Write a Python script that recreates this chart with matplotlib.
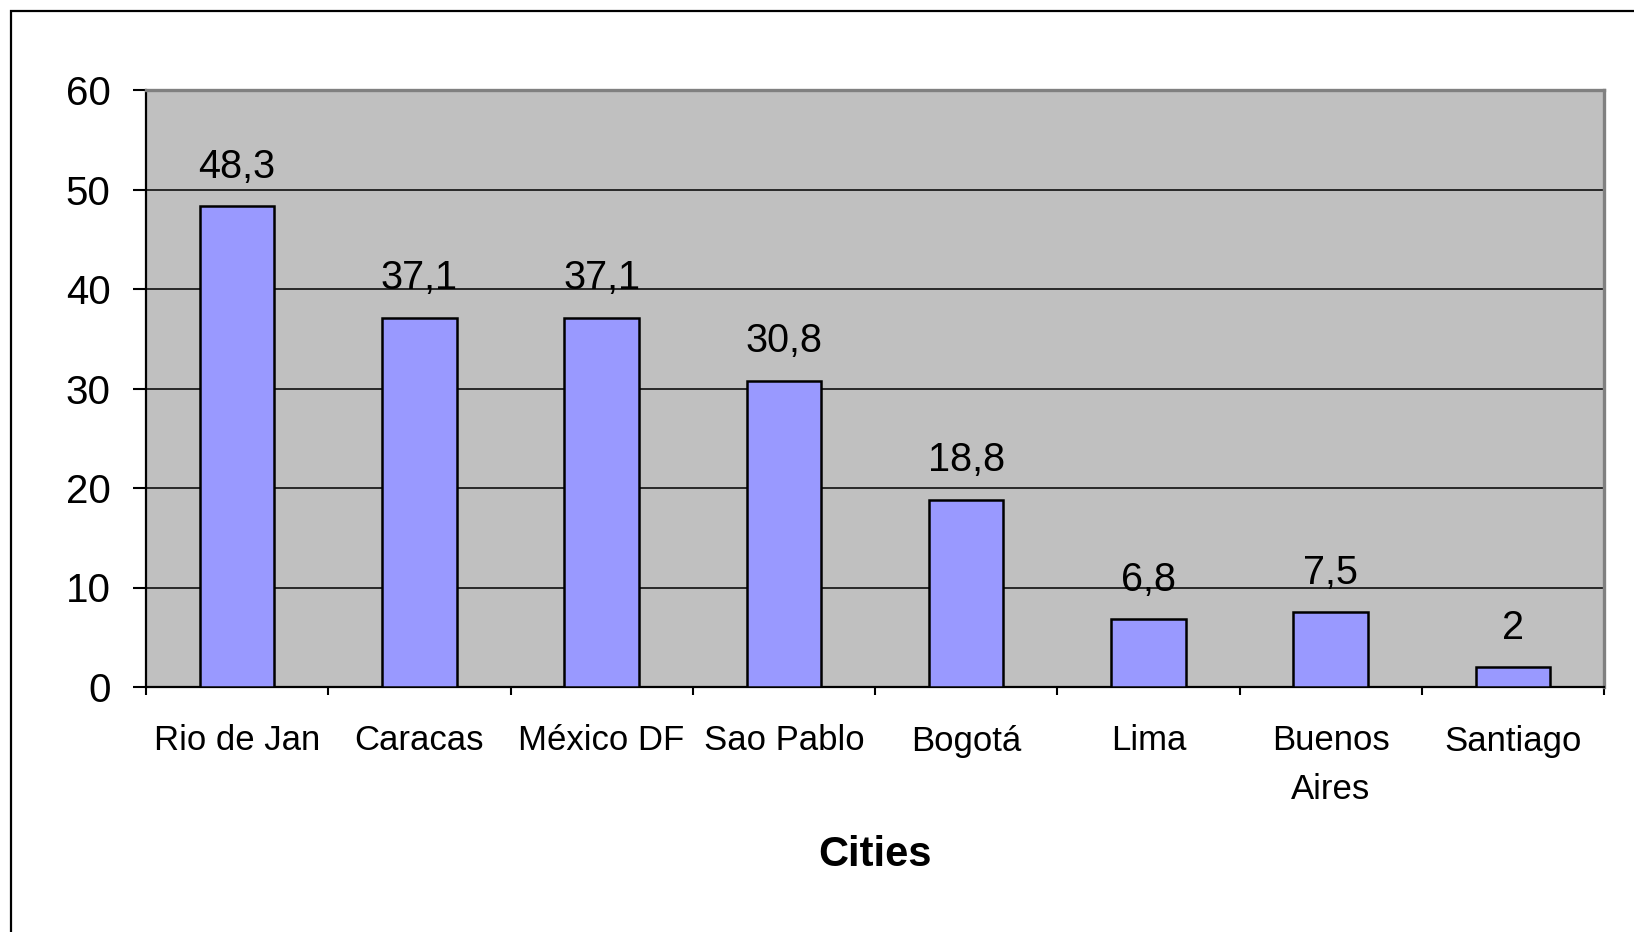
import numpy as np
import matplotlib
matplotlib.use('Agg')
import matplotlib.pyplot as plt
from matplotlib.patches import Rectangle

plt.rcParams['font.family'] = ['Liberation Sans', 'DejaVu Sans']

cities = ['Rio de Jan', 'Caracas', 'México DF', 'Sao Pablo', 'Bogotá', 'Lima', 'Buenos\nAires', 'Santiago']
values = [48.3, 37.1, 37.1, 30.8, 18.8, 6.8, 7.5, 2]
value_labels = ['48,3', '37,1', '37,1', '30,8', '18,8', '6,8', '7,5', '2']
y_ticks = [0, 10, 20, 30, 40, 50, 60]

W, H = 1634, 932
fig = plt.figure(figsize=(W / 100, H / 100), dpi=100)

# outer frame, only left and top edges fall inside the image
fig.patches.append(Rectangle((11 / W, -0.1), 1.2, 1.1 - 11 / H, transform=fig.transFigure,
                             fill=False, edgecolor='black', linewidth=1.6, zorder=0))

ax = fig.add_axes([146 / W, (H - 687) / H, 1458 / W, (687 - 90) / H])
ax.set_facecolor('#C0C0C0')

x = np.arange(len(cities))
ax.bar(x, values, width=0.41, color='#9999FF', edgecolor='black', linewidth=1.8, zorder=3)

for xi, v, lab in zip(x, values, value_labels):
    ax.annotate(lab, (xi, v), xytext=(0, 20.5), textcoords='offset points',
                ha='center', va='baseline', fontsize=28.5)

ax.set_xlim(-0.5, len(cities) - 0.5)
ax.set_ylim(0, 60)
ax.set_yticks(y_ticks)
ax.yaxis.grid(True, color='black', linewidth=1.1, zorder=1)
ax.set_axisbelow(True)

ax.set_xticks(x)
ax.set_xticklabels(cities, fontsize=25, linespacing=1.6)
ax.set_xticks(np.arange(len(cities) + 1) - 0.5, minor=True)
ax.tick_params(axis='x', which='major', length=0, pad=27)
ax.tick_params(axis='x', which='minor', length=6, width=1.5, direction='out')
ax.tick_params(axis='y', length=9.5, width=1.5, pad=16, labelsize=29)

for side in ['left', 'bottom']:
    ax.spines[side].set_color('black')
    ax.spines[side].set_linewidth(1.6)
for side in ['top', 'right']:
    ax.spines[side].set_color('#808080')
    ax.spines[side].set_linewidth(2.4)

ax.set_xlabel('Cities', fontsize=30, fontweight='bold', labelpad=21)

fig.savefig('out.png', dpi=100)
